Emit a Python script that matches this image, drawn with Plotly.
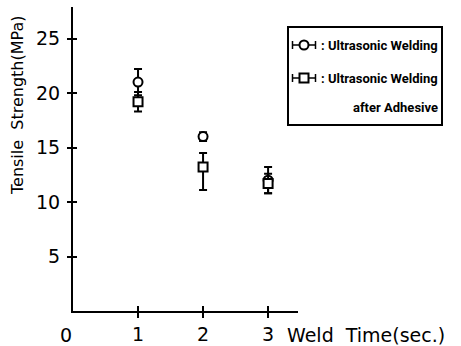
import plotly.graph_objects as go

weld_time = [1, 2, 3]
uw_strength = [21.0, 16.0, 12.0]
uw_err = [1.2, 0.4, 1.2]
uwa_strength = [19.2, 13.2, 11.7]
uwa_err_plus = [0.9, 1.3, 0.9]
uwa_err_minus = [0.9, 2.1, 0.9]
y_ticks = [5, 10, 15, 20, 25]
x_ticks = [1, 2, 3]
legend_names = [": Ultrasonic Welding", ": Ultrasonic Welding", "after Adhesive"]

W, H = 461, 346
L, R, T, B = 73, 10, 7, 35
pw = W - L - R
ph = H - T - B

def px(x):
    return (x - L) / pw

def py(y):
    return (H - B - y) / ph

XMAX = 3.46
YMAX = ph / 10.9

fig = go.Figure()

mk = dict(color="white", size=9, line=dict(color="black", width=2))
eb = dict(type="data", color="black", thickness=2, width=4)

fig.add_trace(go.Scatter(x=weld_time, y=uw_strength, mode="markers",
                         marker=dict(symbol="circle", **mk),
                         error_y=dict(array=uw_err, **eb), showlegend=False))
fig.add_trace(go.Scatter(x=weld_time, y=uwa_strength, mode="markers",
                         marker=dict(symbol="square", **mk),
                         error_y=dict(array=uwa_err_plus, arrayminus=uwa_err_minus, symmetric=False, **eb),
                         showlegend=False))

# legend key samples in an inset axis
fig.add_trace(go.Scatter(x=[0], y=[1], mode="markers", xaxis="x3", yaxis="y3",
                         marker=dict(symbol="circle", **mk),
                         error_x=dict(array=[1], color="black", thickness=1.5, width=4),
                         showlegend=False))
fig.add_trace(go.Scatter(x=[0], y=[0], mode="markers", xaxis="x3", yaxis="y3",
                         marker=dict(symbol="square", **mk),
                         error_x=dict(array=[1], color="black", thickness=1.5, width=4),
                         showlegend=False))

# invisible trace so the overlay axes (inner tick halves) get drawn
fig.add_trace(go.Scatter(x=weld_time, y=uw_strength, xaxis="x2", yaxis="y2", mode="markers",
                         marker=dict(opacity=0), hoverinfo="skip", showlegend=False))

tickfont = dict(family="DejaVu Sans", size=19, color="black")
xdom = [0, 225 / pw]

fig.update_layout(
    width=W, height=H,
    margin=dict(l=L, r=R, t=T, b=B),
    paper_bgcolor="white", plot_bgcolor="white",
    xaxis=dict(domain=xdom, range=[0, XMAX], tickvals=x_ticks, ticks="outside", ticklen=5,
               tickwidth=1.5, tickcolor="black", showline=True, linecolor="black", linewidth=2,
               showgrid=False, zeroline=False, tickfont=tickfont, ticklabelstandoff=0,
               automargin=False),
    yaxis=dict(range=[0, YMAX], tickvals=y_ticks, ticks="outside", ticklen=4,
               tickwidth=1.5, tickcolor="black", showline=True, linecolor="black", linewidth=2,
               showgrid=False, zeroline=False, tickfont=tickfont, ticklabelstandoff=3,
               automargin=False),
    xaxis2=dict(overlaying="x", anchor="y", range=[0, XMAX], tickvals=x_ticks, ticks="inside",
                ticklen=5, tickwidth=1.5, tickcolor="black", showticklabels=False,
                showline=False, showgrid=False, zeroline=False, automargin=False),
    yaxis2=dict(overlaying="y", anchor="x", range=[0, YMAX], tickvals=y_ticks, ticks="inside",
                ticklen=4, tickwidth=1.5, tickcolor="black", showticklabels=False,
                showline=False, showgrid=False, zeroline=False, automargin=False),
    xaxis3=dict(domain=[px(290), px(318)], range=[-14 / 11.5, 14 / 11.5], anchor="y3", visible=False),
    yaxis3=dict(domain=[py(88), py(35)], range=[(78 - 88) / 33, (78 - 35) / 33], anchor="x3", visible=False),
    showlegend=False,
)

fig.add_shape(type="rect", xref="paper", yref="paper", x0=px(288), x1=px(442), y0=py(125), y1=py(27),
              line=dict(color="black", width=2), fillcolor="rgba(0,0,0,0)")

lfont = dict(family="Roboto, Liberation Sans, Arial, sans-serif", size=13, color="black")
fig.add_annotation(text="<b>" + legend_names[0] + "</b>", xref="paper", yref="paper", x=px(319), y=py(45),
                   xanchor="left", yanchor="middle", showarrow=False, font=lfont)
fig.add_annotation(text="<b>" + legend_names[1] + "</b>", xref="paper", yref="paper", x=px(319), y=py(78),
                   xanchor="left", yanchor="middle", showarrow=False, font=lfont)
fig.add_annotation(text="<b>" + legend_names[2] + "</b>", xref="paper", yref="paper", x=px(440), y=py(107),
                   xanchor="right", yanchor="middle", showarrow=False, font=lfont)

fig.add_annotation(text="Tensile  Strength(MPa)", xref="paper", yref="paper", x=px(18), y=py(105),
                   textangle=-90, xanchor="center", yanchor="middle", showarrow=False,
                   font=dict(family="DejaVu Sans", size=16, color="black"))
fig.add_annotation(text="Weld  Time(sec.)", xref="paper", yref="paper", x=px(285), y=py(335),
                   xanchor="left", yanchor="middle", showarrow=False,
                   font=dict(family="DejaVu Sans", size=19, color="black"))
fig.add_annotation(text="0", xref="paper", yref="paper", x=px(66), y=py(335),
                   xanchor="center", yanchor="middle", showarrow=False,
                   font=tickfont)

fig.write_html("out.html")
